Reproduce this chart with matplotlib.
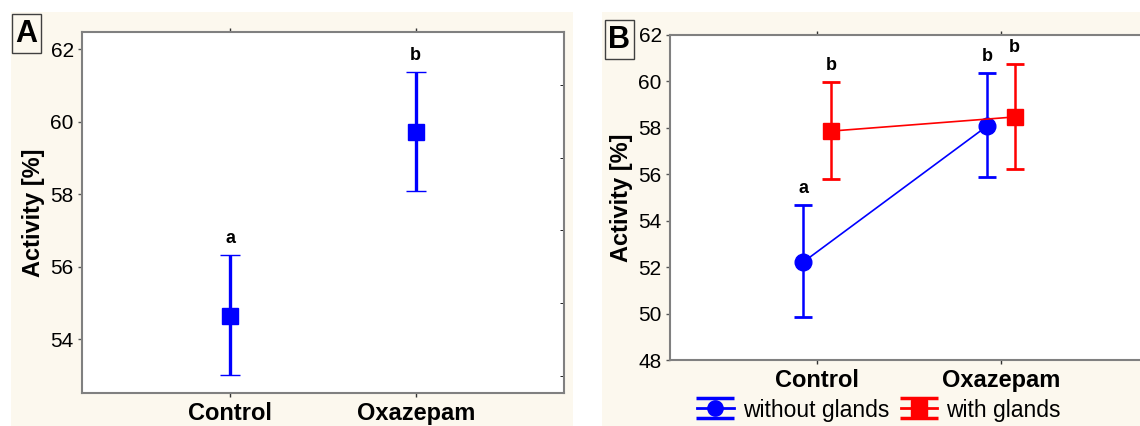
import matplotlib
matplotlib.use("Agg")
import matplotlib.pyplot as plt
from matplotlib.lines import Line2D
from matplotlib.patches import Rectangle
from matplotlib.path import Path
from matplotlib.legend_handler import HandlerTuple
from matplotlib.ticker import MultipleLocator

plt.rcParams['font.family'] = ['Liberation Sans', 'DejaVu Sans']

# panel A: treatment only
groups = ["Control", "Oxazepam"]
a_mean = [54.64, 59.71]
a_low = [53.01, 58.09]
a_high = [56.32, 61.37]
a_letters = ["a", "b"]

# panel B: treatment x glands
series = ["without glands", "with glands"]
b_mean = {"without glands": [52.22, 58.08], "with glands": [57.86, 58.47]}
b_low = {"without glands": [49.84, 55.88], "with glands": [55.79, 56.22]}
b_high = {"without glands": [54.67, 60.36], "with glands": [59.97, 60.75]}
b_letters = {"without glands": ["a", "b"], "with glands": ["b", "b"]}

cream = "#fcf8ee"
frame = "#808080"
colors = {"without glands": "#0000ff", "with glands": "#ff0000"}
markers = {"without glands": "o", "with glands": "s"}
offsets = {"without glands": -0.075, "with glands": 0.075}

W, H = 1140, 426
fig = plt.figure(figsize=(W / 100, H / 100), dpi=100, facecolor="white")

# cream panel backgrounds
fig.patches.append(Rectangle((11 / W, 0), 562 / W, 414 / H, transform=fig.transFigure,
                             facecolor=cream, edgecolor="none", zorder=-10))
fig.patches.append(Rectangle((602 / W, 0), 538 / W, 414 / H, transform=fig.transFigure,
                             facecolor=cream, edgecolor="none", zorder=-10))


def style_axes(ax, xpad):
    for s in ax.spines.values():
        s.set_color(frame)
        s.set_linewidth(1.5)
    ax.set_facecolor("white")
    ax.set_xlim(-0.8, 1.8)
    ax.set_xticks([0, 1])
    ax.set_xticklabels(groups, fontsize=17, fontweight="bold")
    ax.tick_params(axis="x", top=True, bottom=True, direction="out", length=3,
                   width=1, color="#333333", pad=xpad)
    ax.tick_params(axis="y", labelsize=15, length=3, width=1, color="#555555", pad=3)
    ax.set_ylabel("Activity [%]", fontsize=17, fontweight="bold")
    ax.yaxis.set_label_coords(-0.077, 0.5)


# ---- panel A ----
axA = fig.add_axes([82 / W, 33 / H, 482 / W, 361 / H])
style_axes(axA, 3.5)
axA.set_ylim(52.52, 62.47)
axA.set_yticks([54, 56, 58, 60, 62])
axA.yaxis.set_minor_locator(MultipleLocator(1))
axA.tick_params(axis="y", which="minor", left=False, right=True, direction="in", length=3)
xs = list(range(len(groups)))
yerr = [[m - l for m, l in zip(a_mean, a_low)], [h - m for m, h in zip(a_mean, a_high)]]
axA.errorbar(xs, a_mean, yerr=yerr, fmt="s", color="#0000ff", ms=12, lw=2.4,
             capsize=7, capthick=2.4, mew=1)
for x, h, t in zip(xs, a_high, a_letters):
    axA.annotate(t, (x, h), xytext=(0, 12), textcoords="offset points",
                 ha="center", va="center", fontsize=13, fontweight="bold")

# ---- panel B ----
axB = fig.add_axes([670 / W, 66 / H, 478 / W, 325 / H])
style_axes(axB, 3.5)
axB.set_ylim(48, 62)
axB.set_yticks(range(48, 63, 2))
for s in series:
    bx = [x + offsets[s] for x in xs]
    err = [[m - l for m, l in zip(b_mean[s], b_low[s])],
           [h - m for m, h in zip(b_mean[s], b_high[s])]]
    axB.errorbar(bx, b_mean[s], yerr=err, fmt="none", ecolor=colors[s], elinewidth=1.8,
                 capsize=6.5, capthick=2)
    axB.plot(bx, b_mean[s], color=colors[s], lw=1.2, marker=markers[s], ms=12, mew=1)
    for x, h, t in zip(bx, b_high[s], b_letters[s]):
        axB.annotate(t, (x, h), xytext=(0, 12), textcoords="offset points",
                     ha="center", va="center", fontsize=13, fontweight="bold")

# legend handles: marker on a line with long caps above and below
caps = Path([(-1, 0.55), (1, 0.55), (-1, -0.55), (1, -0.55)],
            [Path.MOVETO, Path.LINETO, Path.MOVETO, Path.LINETO])
handles = []
for s in series:
    mid = Line2D([], [], color=colors[s], lw=2, marker=markers[s], ms=11)
    cap = Line2D([], [], color=colors[s], lw=0, marker=caps, ms=27, mew=2.5,
                 markerfacecolor="none")
    handles.append((mid, cap))
fig.legend(handles, series, loc="center", bbox_to_anchor=(879 / W, 1 - 410 / H), ncol=2,
           frameon=False, fontsize=16.5, handlelength=1.6, handletextpad=0.4,
           columnspacing=0.5, borderpad=0, handler_map={tuple: HandlerTuple(ndivide=1, pad=0)})

# panel letters in boxes
for lab, (x0, y0, x1, y1) in [("A", (12, 14, 41, 53)), ("B", (605, 20, 634, 59))]:
    fig.patches.append(Rectangle((x0 / W, 1 - y1 / H), (x1 - x0) / W, (y1 - y0) / H,
                                 transform=fig.transFigure, facecolor="none",
                                 edgecolor="#404040", lw=1))
    fig.text((x0 + x1) / 2 / W, 1 - (y0 + y1) / 2 / H, lab, ha="center", va="center",
             fontsize=22, fontweight="bold")

fig.savefig("out.png", dpi=100, facecolor="white")
